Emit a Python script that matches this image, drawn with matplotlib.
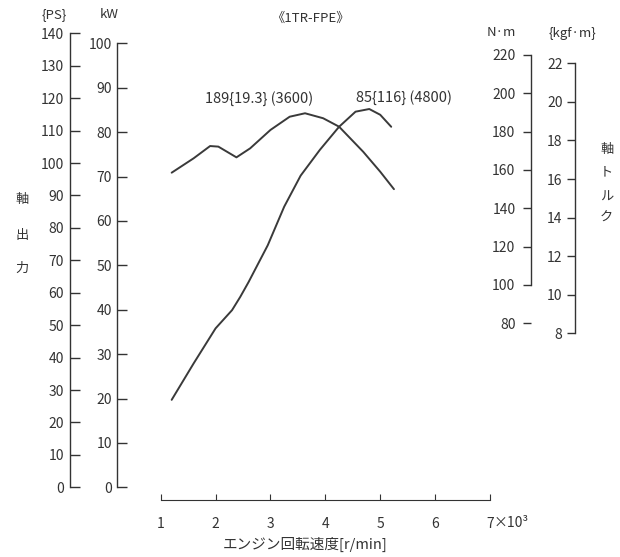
import matplotlib
matplotlib.use("Agg")
import matplotlib.pyplot as plt

plt.rcParams['font.family'] = ['Noto Sans CJK JP', 'DejaVu Sans']

# engine speed [r/min] and shaft output [kW]
rpm_power = [1200, 1600, 2000, 2300, 2450, 2600, 2950, 3250, 3550, 3900, 4250, 4550, 4800, 5000, 5200]
power_kw = [19.7, 27.9, 35.8, 39.9, 42.9, 46.2, 54.5, 63.2, 70.2, 76.0, 81.2, 84.6, 85.2, 83.9, 81.2]

# engine speed [r/min] and shaft torque [N·m]
rpm_torque = [1200, 1600, 1900, 2050, 2380, 2630, 3000, 3350, 3630, 3960, 4250, 4690, 5000, 5250]
torque_nm = [158.6, 166.1, 172.5, 172.2, 166.6, 171.3, 180.9, 187.8, 189.6, 187.0, 182.6, 169.5, 159.1, 150.0]

x_ticks = [1000, 2000, 3000, 4000, 5000, 6000, 7000]
x_labels = ['1', '2', '3', '4', '5', '6', '7']
ps_ticks = list(range(0, 141, 10))
kw_ticks = list(range(0, 101, 10))
nm_ticks = list(range(80, 221, 20))
kgf_ticks = list(range(8, 23, 2))

INK = '#333333'
W, H = 620, 557

fig = plt.figure(figsize=(W / 100, H / 100), dpi=100)

# plot area: 1000 r/min at x=160.7px, 7000 at 490px; y from 33.3px to 487.3px
x0, x1 = 160.7, 490.0
ytop, ybot = 33.3, 487.3
rect = [x0 / W, 1 - ybot / H, (x1 - x0) / W, (ybot - ytop) / H]


def fpos(px, py):
    return px / W, 1 - py / H


def axes_frac(px):
    return (px - x0) / (x1 - x0)


def side_axis(ylim, spine_x, bounds, ticks, direction, length, pad):
    a = fig.add_axes(rect)
    a.patch.set_visible(False)
    a.set_xlim(1000, 7000)
    a.set_ylim(*ylim)
    for s in ['top', 'right', 'bottom']:
        a.spines[s].set_visible(False)
    a.spines['left'].set_position(('axes', axes_frac(spine_x)))
    a.spines['left'].set_bounds(*bounds)
    a.spines['left'].set_color(INK)
    a.spines['left'].set_linewidth(1.0)
    a.set_xticks([])
    a.set_yticks(ticks)
    a.tick_params(axis='y', direction=direction, length=length, pad=pad,
                  labelsize=10, colors=INK, width=1.0)
    return a


# main axes carries the kW scale and the speed axis
ax = side_axis((0, 454 / 4.44), 116.7, (0, 100), kw_ticks, 'in', 7, 3.5)
ax.spines['bottom'].set_visible(True)
ax.spines['bottom'].set_position(('outward', 9.1))
ax.spines['bottom'].set_bounds(1000, 7000)
ax.spines['bottom'].set_color(INK)
ax.set_xticks(x_ticks)
ax.set_xticklabels(x_labels)
ax.tick_params(axis='x', direction='in', length=4, pad=12, labelsize=10,
               colors=INK)

ax_ps = side_axis((0, 140), 70.0, (0, 140), ps_ticks, 'in', 7, 4.5)

nm_per_px = 1 / 1.9166
ax_nm = side_axis((220 - (ybot - 55) * nm_per_px, 220 + (55 - ytop) * nm_per_px),
                  530.7, (100, 220), nm_ticks, 'out', 6, 5)

kgf_per_px = 1 / 19.286
ax_kgf = side_axis((22 - (ybot - 63.3) * kgf_per_px, 22 + (63.3 - ytop) * kgf_per_px),
                   575.0, (8, 22), kgf_ticks, 'out', 6, 3)

ax.plot(rpm_power, power_kw, color='#3a3a3a', lw=1.4, solid_capstyle='round')
ax_nm.plot(rpm_torque, torque_nm, color='#3a3a3a', lw=1.4, solid_capstyle='round')

# unit labels
fig.text(*fpos(54, 15), '{PS}', ha='center', va='center', fontsize=9.5, color=INK)
fig.text(*fpos(109, 15), 'kW', ha='center', va='center', fontsize=9.5, color=INK)
fig.text(*fpos(501, 33), 'N·m', ha='center', va='center', fontsize=9.5, color=INK)
fig.text(*fpos(572, 33), '{kgf·m}', ha='center', va='center', fontsize=9.5, color=INK)

for ch, py in zip('軸出力', [200, 235, 268]):
    fig.text(*fpos(21.7, py), ch, ha='center', va='center', fontsize=9.5, color=INK)
for ch, py in zip('軸トルク', [150, 173, 197, 218]):
    fig.text(*fpos(606.7, py), ch, ha='center', va='center', fontsize=9.5, color=INK)

fig.text(*fpos(310, 18), '《1TR-FPE》', ha='center', va='center', fontsize=9.5, color=INK)
fig.text(*fpos(259, 99), '189{19.3} (3600)', ha='center', va='center', fontsize=10.5, color=INK)
fig.text(*fpos(404, 98), '85{116} (4800)', ha='center', va='center', fontsize=10.5, color=INK)

fig.text(*fpos(494, 523), '×10³', ha='left', va='center', fontsize=10, color=INK)
fig.text(*fpos(305, 544), 'エンジン回転速度[r/min]', ha='center', va='center',
         fontsize=10.5, color=INK)

fig.savefig('out.png', dpi=100)
